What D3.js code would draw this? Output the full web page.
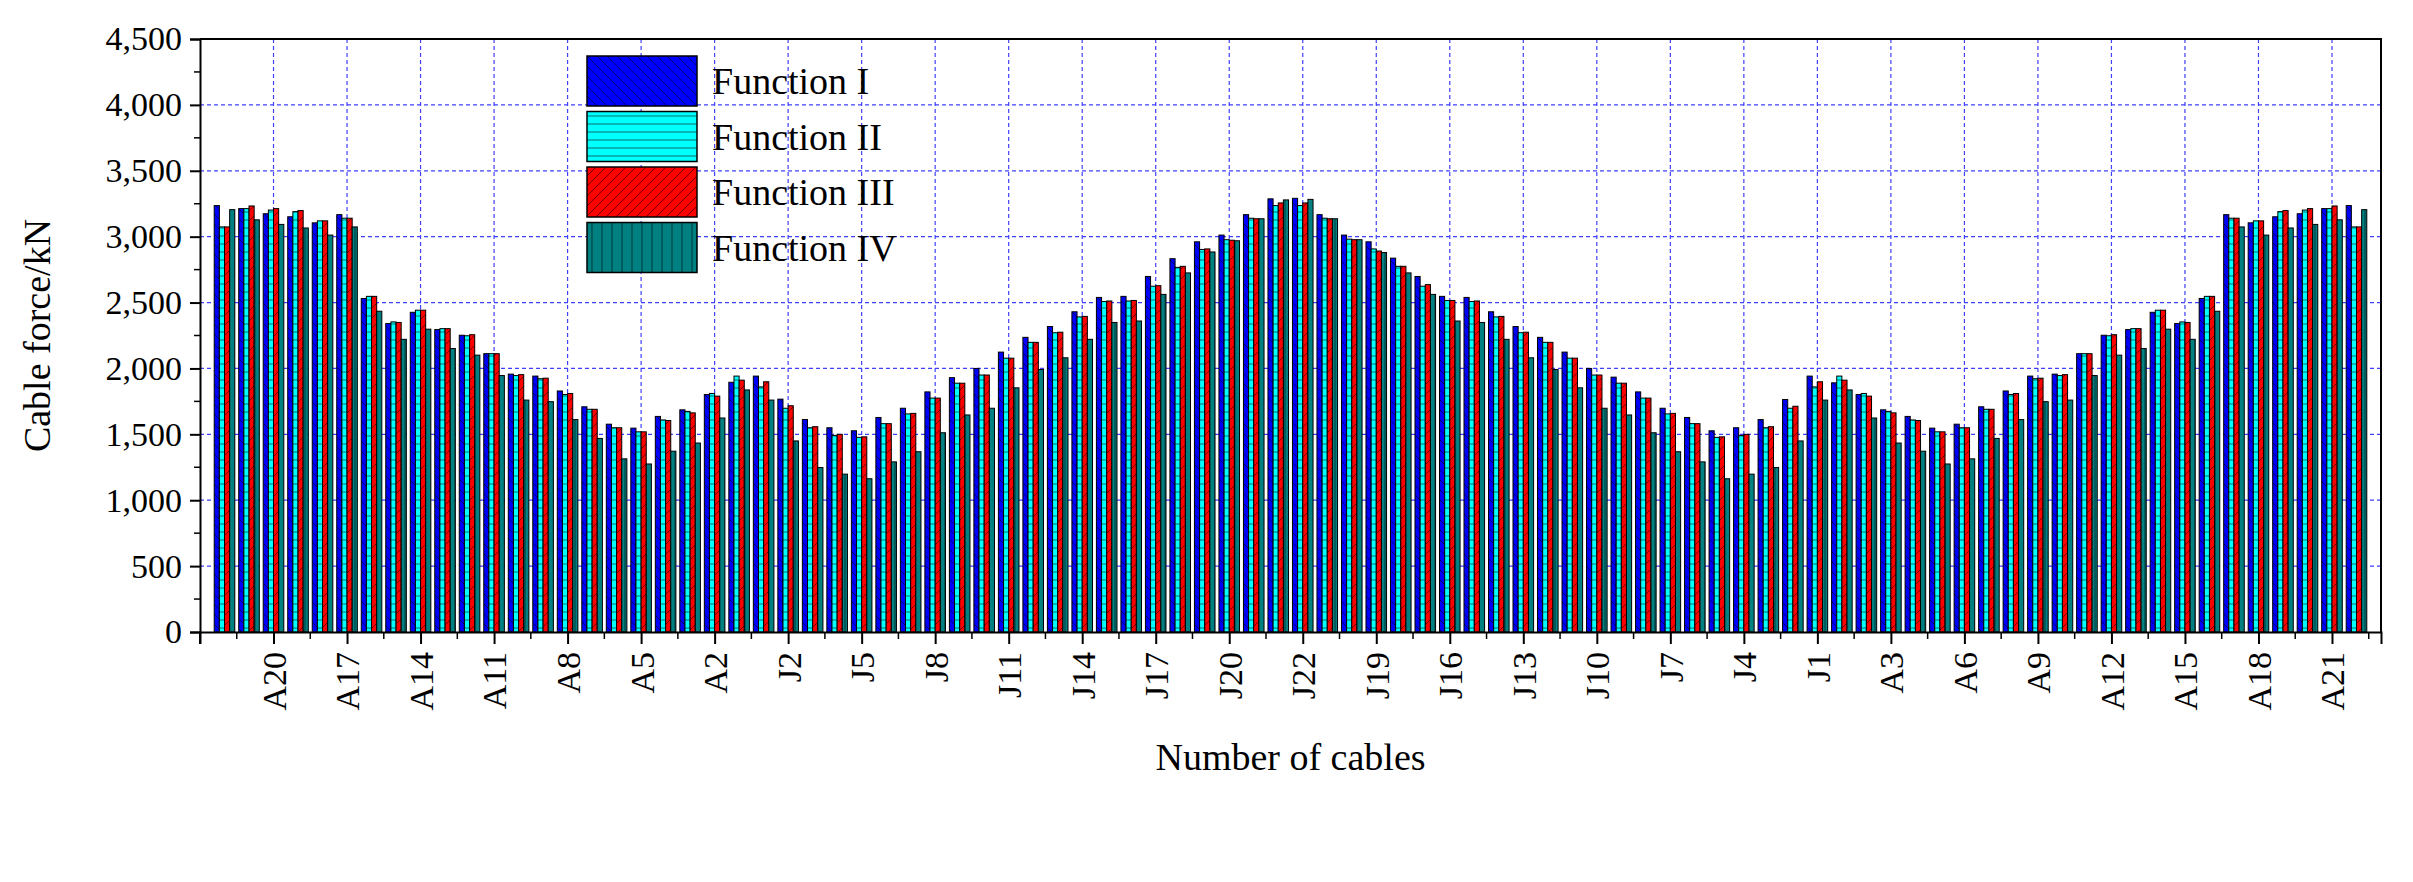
<!DOCTYPE html>
<html>
<head>
<meta charset="utf-8">
<script src="https://cdn.jsdelivr.net/npm/d3@7"></script>
<style>
  body { margin: 0; background: #fff; }
  text { font-family: "Liberation Serif", "Times New Roman", serif; }
</style>
</head>
<body>
<svg id="chart" width="2413" height="882"></svg>
<script>
let cables = [
  "A22","A21","A20","A19","A18","A17","A16","A15","A14","A13","A12","A11","A10","A9","A8","A7","A6","A5","A4","A3","A2","A1",
  "J1","J2","J3","J4","J5","J6","J7","J8","J9","J10","J11","J12","J13","J14","J15","J16","J17","J18","J19","J20","J21","J22",
  "J22","J21","J20","J19","J18","J17","J16","J15","J14","J13","J12","J11","J10","J9","J8","J7","J6","J5","J4","J3","J2","J1",
  "A1","A2","A3","A4","A5","A6","A7","A8","A9","A10","A11","A12","A13","A14","A15","A16","A17","A18","A19","A20","A21","A22"
];

let func1 = [
  3236,3213,3174,3151,3105,3167,2531,2341,2426,2295,2252,2112,1957,1942,1829,1709,1577,1547,1636,1686,1802,1895,
  1942,1767,1612,1550,1527,1628,1698,1822,1930,2000,2124,2236,2318,2430,2539,2547,2698,2833,2961,3012,3167,3287,
  3291,3167,3012,2961,2837,2698,2547,2539,2430,2318,2236,2124,2000,1934,1822,1698,1628,1527,1550,1612,1764,1942,
  1891,1802,1686,1636,1547,1577,1709,1829,1942,1957,2112,2252,2295,2426,2341,2531,3167,3105,3151,3174,3213,3236
];
let func2 = [
  3074,3213,3202,3190,3120,3140,2547,2353,2442,2302,2248,2112,1946,1922,1802,1690,1550,1519,1609,1674,1810,1942,
  1860,1698,1550,1492,1477,1581,1655,1775,1888,1950,2078,2198,2271,2391,2508,2512,2624,2767,2903,2977,3140,3236,
  3236,3140,2981,2907,2775,2624,2516,2508,2391,2271,2198,2078,1950,1888,1775,1655,1581,1477,1492,1550,1698,1860,
  1942,1810,1674,1609,1519,1550,1690,1802,1922,1946,2112,2248,2302,2442,2353,2547,3140,3120,3190,3202,3213,3074
];
let func3 = [
  3074,3233,3213,3198,3120,3140,2547,2349,2442,2302,2256,2112,1953,1926,1810,1690,1550,1519,1605,1663,1790,1911,
  1899,1717,1558,1500,1481,1581,1659,1775,1888,1950,2078,2198,2275,2395,2512,2516,2628,2775,2907,2973,3136,3256,
  3256,3136,2977,2891,2775,2636,2516,2512,2395,2275,2198,2078,1950,1888,1775,1659,1581,1481,1500,1558,1713,1899,
  1911,1790,1663,1605,1519,1550,1690,1810,1926,1953,2112,2256,2302,2442,2349,2547,3140,3120,3198,3213,3233,3074
];
let func4 = [
  3205,3128,3093,3066,3012,3074,2434,2221,2298,2151,2101,1946,1760,1748,1612,1469,1314,1275,1372,1434,1624,1837,
  1760,1450,1248,1198,1163,1291,1368,1512,1647,1698,1853,1992,2081,2221,2349,2360,2562,2725,2884,2969,3136,3279,
  3283,3136,2977,2880,2725,2562,2360,2349,2221,2081,1992,1853,1698,1647,1512,1368,1291,1163,1198,1248,1450,1760,
  1837,1624,1434,1372,1275,1314,1469,1612,1748,1760,1946,2101,2151,2298,2221,2434,3074,3012,3066,3093,3128,3205
];

let seriesNames = ["Function I", "Function II", "Function III", "Function IV"];
let seriesColors = ["#0000ff", "#00ffff", "#ff0000", "#008080"];
let yTicks = [0, 500, 1000, 1500, 2000, 2500, 3000, 3500, 4000, 4500];

let svg = d3.select("#chart");
let pLeft = 200, pRight = 2381, pTop = 39, pBottom = 632;

let x = d3.scaleLinear().domain([-1, cables.length]).range([pLeft, pRight]);
let y = d3.scaleLinear().domain([0, 4500]).range([pBottom, pTop]);
let step = x(1) - x(0);
let barW = step * 0.84 / 4;

// hatch patterns
let defs = svg.append("defs");
let patterns = [
  { id: "p0", path: "M-2,-2 L12,12 M-12,-2 L2,12 M8,-2 L22,12", size: 10 },
  { id: "p1", path: "M0,4 L10,4", size: 8 },
  { id: "p2", path: "M-2,12 L12,-2 M-12,12 L2,-2 M8,12 L22,-2", size: 10 },
  { id: "p3", path: "M5,0 L5,10", size: 10 }
];
patterns.forEach((p, i) => {
  let pat = defs.append("pattern").attr("id", p.id)
    .attr("patternUnits", "userSpaceOnUse")
    .attr("width", p.size).attr("height", p.size);
  pat.append("rect").attr("width", p.size).attr("height", p.size).attr("fill", seriesColors[i]);
  pat.append("path").attr("d", p.path).attr("stroke", "#000").attr("stroke-width", 0.8).attr("opacity", 0.7);
});

// grid
let majorIdx = d3.range(2, cables.length, 3);
svg.append("g").selectAll("line").data(yTicks.slice(1)).join("line")
  .attr("x1", pLeft).attr("x2", pRight).attr("y1", d => y(d)).attr("y2", d => y(d))
  .attr("stroke", "#4040ff").attr("stroke-width", 1.2).attr("stroke-dasharray", "4,3");
svg.append("g").selectAll("line").data(majorIdx).join("line")
  .attr("x1", d => x(d)).attr("x2", d => x(d)).attr("y1", pTop).attr("y2", pBottom)
  .attr("stroke", "#4040ff").attr("stroke-width", 1.2).attr("stroke-dasharray", "4,3");

// bars
let all = [func1, func2, func3, func4];
all.forEach((vals, s) => {
  svg.append("g").selectAll("rect").data(vals).join("rect")
    .attr("x", (d, i) => x(i) - 2 * barW + s * barW)
    .attr("y", d => y(d))
    .attr("width", barW)
    .attr("height", d => pBottom - y(d))
    .attr("fill", "url(#p" + s + ")")
    .attr("stroke", "#000").attr("stroke-width", 1);
});

// axes
let yAxis = d3.axisLeft(y).tickValues(yTicks).tickSize(10).tickPadding(8);
let gy = svg.append("g").attr("transform", `translate(${pLeft},0)`).call(yAxis);
gy.selectAll("text").attr("font-size", 34).attr("font-family", "Liberation Serif").attr("fill", "#000");
gy.select(".domain").attr("stroke-width", 2);
gy.selectAll(".tick line").attr("stroke-width", 2);
svg.append("g").selectAll("line").data(d3.range(250, 4500, 500)).join("line")
  .attr("x1", pLeft - 6).attr("x2", pLeft).attr("y1", d => y(d)).attr("y2", d => y(d))
  .attr("stroke", "#000").attr("stroke-width", 1.5);

let xAxis = d3.axisBottom(x).tickValues(majorIdx).tickSize(12).tickFormat(i => cables[i]);
let gx = svg.append("g").attr("transform", `translate(0,${pBottom})`).call(xAxis);
gx.select(".domain").attr("stroke-width", 2);
gx.selectAll(".tick line").attr("stroke-width", 2);
gx.selectAll("text").attr("font-size", 34).attr("font-family", "Liberation Serif").attr("fill", "#000")
  .attr("transform", "rotate(-90)").attr("text-anchor", "end").attr("x", -20).attr("y", 0).attr("dy", "0.35em");
svg.append("g").selectAll("line").data(d3.range(-1, cables.length, 3).map(d => d + 1.5)).join("line")
  .attr("x1", d => x(d)).attr("x2", d => x(d)).attr("y1", pBottom).attr("y2", pBottom + 7)
  .attr("stroke", "#000").attr("stroke-width", 1.5);
svg.append("line").attr("x1", x(-1)).attr("x2", x(-1)).attr("y1", pBottom).attr("y2", pBottom + 12)
  .attr("stroke", "#000").attr("stroke-width", 2);

// frame
svg.append("path").attr("d", `M${pLeft},${pTop} L${pRight},${pTop} L${pRight},${pBottom}`)
  .attr("fill", "none").attr("stroke", "#000").attr("stroke-width", 2);

// titles
svg.append("text").attr("transform", `translate(50,${(pTop + pBottom) / 2}) rotate(-90)`)
  .attr("text-anchor", "middle").attr("font-size", 38).text("Cable force/kN");
svg.append("text").attr("x", (pLeft + pRight) / 2).attr("y", 770)
  .attr("text-anchor", "middle").attr("font-size", 38).text("Number of cables");

// legend
let lg = svg.append("g").attr("transform", "translate(587,56)");
seriesNames.forEach((n, i) => {
  lg.append("rect").attr("x", 0).attr("y", i * 55.5).attr("width", 110).attr("height", 50)
    .attr("fill", "url(#p" + i + ")").attr("stroke", "#000").attr("stroke-width", 1.5);
  lg.append("text").attr("x", 125).attr("y", i * 55.5 + 38).attr("font-size", 38).text(n);
});
</script>
</body>
</html>
